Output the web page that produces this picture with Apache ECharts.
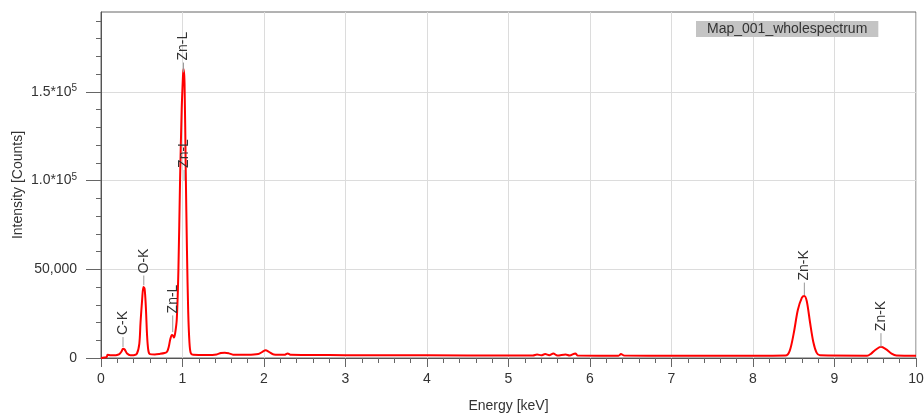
<!DOCTYPE html>
<html>
<head>
<meta charset="utf-8">
<script src="https://cdn.jsdelivr.net/npm/echarts@6/dist/echarts.min.js"></script>
<style>
html, body { margin: 0; padding: 0; background: #fff; }
#main { width: 924px; height: 413px; }
</style>
</head>
<body>
<div id="main"></div>
<script>
// spectrum
var energy = [0.00, 0.04, 0.07, 0.08, 0.12, 0.18, 0.22, 0.25, 0.27, 0.29, 0.32, 0.36, 0.40, 0.44, 0.47, 0.485,
    0.505, 0.52, 0.535, 0.55, 0.565, 0.58, 0.60, 0.66, 0.72, 0.78, 0.81, 0.83, 0.85, 0.87, 0.885, 0.895,
    0.91, 0.93, 0.95, 0.97, 0.99, 1.005, 1.012, 1.025, 1.04, 1.055, 1.07, 1.085, 1.10, 1.13, 1.30, 1.42,
    1.47, 1.52, 1.57, 1.62, 1.80, 1.93, 1.98, 2.02, 2.06, 2.12, 2.25, 2.29, 2.33, 2.60, 3.00, 4.00,
    5.00, 5.30, 5.35, 5.40, 5.45, 5.50, 5.55, 5.60, 5.70, 5.75, 5.82, 5.85, 6.35, 6.38, 6.42, 7.00,
    8.00, 8.40, 8.45, 8.50, 8.55, 8.60, 8.63, 8.66, 8.70, 8.74, 8.78, 8.82, 9.40, 9.45, 9.50, 9.57,
    9.63, 9.70, 9.76, 10.00];
var counts = [0, 300, 600, 1800, 1500, 1600, 2000, 3500, 5200, 4800, 2500, 1500, 1600, 2400, 8000, 20000,
    33000, 40000, 39000, 29000, 13000, 4500, 2200, 2000, 2300, 2800, 3500, 6000, 10500, 13000, 12500, 11500,
    14000, 22000, 50000, 100000, 140000, 158000, 163000, 155000, 105000, 60000, 26000, 9000, 3000, 1800, 1700, 2000,
    2800, 3000, 2600, 1900, 1800, 2200, 3500, 4300, 3500, 2000, 1800, 2600, 1800, 1700, 1600, 1500,
    1400, 1400, 2000, 1500, 2200, 1600, 2500, 1400, 2000, 1400, 2600, 1400, 1300, 2200, 1400, 1300,
    1300, 1400, 4000, 14000, 27000, 34000, 35000, 32000, 20000, 9000, 3000, 1500, 1300, 2500, 4500, 6300,
    5000, 2500, 1400, 1300];

// peak labels: energy, leader bottom, leader top (counts)
var labelText   = ['C-K', 'O-K', 'Zn-L', 'Zn-L', 'Zn-L', 'Zn-K', 'Zn-K'];
var labelEnergy = [0.27, 0.525, 0.88, 1.012, 1.02, 8.63, 9.57];
var labelBottom = [6200, 41000, 14600, 161000, 100000, 35500, 6200];
var labelTop    = [11800, 46500, 24000, 166500, 106000, 42500, 14000];

var yLabelValues = [0, 50000, 100000, 150000];
var yMinorValues = [10000, 20000, 30000, 40000, 60000, 70000, 80000, 90000,
    110000, 120000, 130000, 140000, 160000, 170000, 180000, 190000];

var myChart = echarts.init(document.getElementById('main'));
var font = "'Liberation Sans', Arial, sans-serif";

var option = {
    animation: false,
    textStyle: { fontFamily: font },
    title: {
        text: 'Map_001_wholespectrum',
        left: 696,
        top: 21,
        padding: [1, 11],
        backgroundColor: '#c4c4c4',
        textStyle: { fontSize: 14, fontWeight: 'normal', color: '#333', fontFamily: font }
    },
    grid: {
        left: 101, right: 8, top: 12, bottom: 55,
        outerBoundsMode: 'none',
        containLabel: false,
        show: true,
        borderColor: '#666',
        borderWidth: 1
    },
    xAxis: {
        type: 'value',
        min: 0, max: 10, interval: 1,
        name: 'Energy [keV]',
        nameLocation: 'middle',
        nameGap: 41,
        nameMoveOverlap: false,
        nameTextStyle: { fontSize: 14, color: '#333' },
        axisLine: { lineStyle: { color: '#555' } },
        axisTick: { length: 9, lineStyle: { color: '#666' } },
        minorTick: { show: true, splitNumber: 5, length: 5, lineStyle: { color: '#666' } },
        axisLabel: { fontSize: 14, color: '#333', margin: 14 },
        splitLine: { lineStyle: { color: '#dcdcdc' } }
    },
    yAxis: [{
        type: 'value',
        min: 0, max: 195000, interval: 50000,
        name: 'Intensity [Counts]',
        nameLocation: 'middle',
        nameGap: 76,
        nameMoveOverlap: false,
        nameTextStyle: { fontSize: 14, color: '#333' },
        axisLine: { show: true, lineStyle: { color: '#555' } },
        axisTick: { show: true, length: 15, customValues: yLabelValues, lineStyle: { color: '#666' } },
        axisLabel: {
            customValues: yLabelValues,
            fontSize: 14, color: '#333', margin: 24,
            formatter: function (v) {
                if (v === 150000) return '{a|1.5*10}{s|5}';
                if (v === 100000) return '{a|1.0*10}{s|5}';
                if (v === 50000) return '{a|50,000}';
                if (v === 0) return '{a|0}';
                return '';
            },
            rich: {
                a: { fontSize: 14, color: '#333', fontFamily: font },
                s: { fontSize: 10, color: '#333', verticalAlign: 'top', padding: [0, 0, 7, 0], fontFamily: font }
            }
        },
        splitLine: { lineStyle: { color: '#dcdcdc' } }
    }, {
        type: 'value',
        min: 0, max: 195000,
        position: 'left',
        axisLine: { show: false },
        axisTick: { show: true, length: 5, customValues: yMinorValues, lineStyle: { color: '#666' } },
        axisLabel: { show: false },
        splitLine: { show: false }
    }],
    series: [{
        name: 'Map_001_wholespectrum',
        type: 'line',
        showSymbol: false,
        symbol: 'none',
        smooth: 0.3,
        lineStyle: { color: '#ff0000', width: 2 },
        data: energy.map(function (e, i) { return [e, counts[i]]; })
    }, {
        type: 'custom',
        z: 5,
        silent: true,
        renderItem: function (params, api) {
            var p0 = api.coord([api.value(0), api.value(1)]);
            var p1 = api.coord([api.value(0), api.value(2)]);
            return {
                type: 'group',
                children: [{
                    type: 'line',
                    shape: { x1: p0[0], y1: p0[1], x2: p1[0], y2: p1[1] },
                    style: { stroke: '#999', lineWidth: 1 }
                }, {
                    type: 'text',
                    x: p1[0],
                    y: p1[1] - 2,
                    rotation: Math.PI / 2,
                    style: {
                        text: labelText[params.dataIndex],
                        align: 'left',
                        verticalAlign: 'middle',
                        fontSize: 14,
                        fontFamily: font,
                        fill: '#333'
                    }
                }]
            };
        },
        data: labelEnergy.map(function (e, i) { return [e, labelBottom[i], labelTop[i]]; })
    }]
};

myChart.setOption(option);
</script>
</body>
</html>
